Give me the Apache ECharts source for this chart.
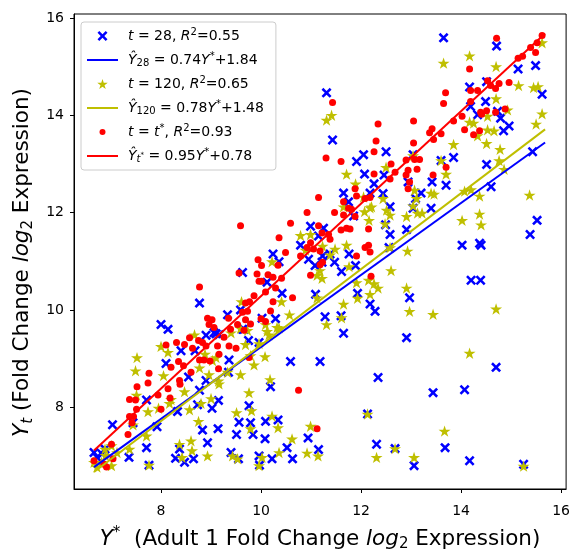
<!DOCTYPE html>
<html>
<head>
<meta charset="utf-8">
<title>Fold change scatter</title>
<script src="https://cdn.jsdelivr.net/npm/echarts@6/dist/echarts.min.js"></script>
<style>
    html, body { margin: 0; padding: 0; background: #fff; }
    #main { width: 573px; height: 557px; }
</style>
</head>
<body>
<div id="main"></div>
<script>
// 刻度
var xTicks = [8, 10, 12, 14, 16];
var yTicks = [8, 10, 12, 14, 16];

// t = 28  [Y*, Y28]
var points28 = [
    [13.65,15.59],[14.71,15.42],[15.14,14.95],[15.49,15.02],[14.17,14.58],[14.51,14.69],[15.62,14.43],[11.31,14.46],
    [14.49,14.28],[14.19,14.18],[14.33,14.01],[14.73,14.08],[14.79,13.94],[14.96,13.78],[14.85,13.68],[11.43,13.49],
    [11.91,13.05],[12.05,13.19],[12.50,13.25],[13.04,13.19],[13.85,13.13],[13.60,13.07],[14.51,12.99],[15.43,13.25],
    [12.07,12.79],[12.46,12.77],[12.26,12.59],[11.65,12.40],[12.18,12.40],[12.44,12.39],[13.09,12.29],[13.42,12.63],
    [13.70,12.56],[13.20,12.40],[12.94,12.63],[14.60,12.53],[13.40,12.09],[12.58,12.12],[13.04,12.09],[11.85,11.93],
    [12.49,11.75],[12.58,11.55],[12.91,11.65],[14.02,11.33],[14.37,11.37],[14.40,11.33],[15.52,11.84],[15.38,11.55],
    [11.76,11.15],[11.47,10.98],[11.61,10.79],[11.89,10.91],[14.20,10.61],[14.39,10.61],[11.93,10.34],[12.97,10.25],
    [12.18,10.12],[12.28,9.97],[11.60,9.88],[11.65,9.52],[12.91,9.43],[12.56,11.28],
    [14.70,8.82],[12.34,8.61],[13.44,8.30],[14.07,8.36],[12.13,7.86],[12.31,7.24],[12.68,7.15],[13.68,7.17],
    [13.06,6.80],[14.17,6.90],[15.25,6.83],
    [8.40,9.16],[8.10,8.90],[8.90,9.48],[9.10,9.51],[9.63,9.60],[9.75,9.37],[10.59,8.94],[11.18,8.94],[9.36,8.97],
    [9.35,8.72],[8.55,8.62],[10.19,8.42],[7.71,8.15],[7.03,7.64],[7.44,7.68],[7.92,7.60],[8.33,7.91],[8.73,8.05],
    [9.02,7.98],[9.15,8.14],[9.76,8.03],[9.56,7.69],[9.79,7.68],[10.09,7.71],[10.34,7.74],[8.83,7.53],[9.14,7.56],
    [8.93,7.27],[9.51,7.44],[9.84,7.44],[10.08,7.35],[7.71,7.17],[7.36,6.97],[7.76,6.81],[8.37,7.14],[8.29,6.95],
    [8.47,6.87],[8.65,6.94],[9.40,7.07],[9.55,6.94],[9.96,7.00],[10.22,6.94],[10.52,7.17],[10.63,6.94],[10.94,7.37],
    [11.15,7.13],[9.97,6.81],[6.88,7.14],[6.66,7.07],[6.82,7.04],[6.72,6.97],
    [9.63,10.77],[10.12,10.57],[10.42,10.34],[11.09,10.32],[11.28,9.86],[8.77,10.14],[9.33,9.90],[9.59,10.00],
    [10.02,9.83],[10.29,9.82],[9.66,9.60],[9.06,9.53],[9.16,9.49],[9.96,9.33],[8.90,8.55],[8.77,8.35],[10.36,10.99],
    [10.95,11.04],[11.22,10.98],[11.08,10.91],[10.99,11.72],[10.79,11.33],[10.24,11.15],[8.00,9.70],[8.14,9.60],
    [11.23,11.11],[8.68,9.16],[11.75,12.22],[11.15,11.52],[11.25,11.68],[11.38,11.15]
];

// t = 120
var points120 = [
    [13.65,15.07],[14.17,15.22],[14.70,15.00],[15.15,14.61],[15.45,14.57],[15.54,14.59],[14.70,14.34],[15.62,14.03],
    [15.50,13.82],[14.93,14.11],[14.53,13.98],[14.17,13.86],[14.25,13.84],[14.53,13.70],[14.66,13.68],[14.33,13.58],
    [14.51,13.42],[14.78,13.30],[13.85,13.40],[14.76,13.07],[14.86,12.89],[13.60,13.07],[13.04,13.17],[12.50,12.93],
    [11.71,12.79],[11.41,14.00],[11.31,13.90],[15.62,15.49],[13.70,12.79],
    [11.89,12.59],[13.40,12.40],[13.46,12.38],[14.07,12.44],[14.20,12.47],[14.37,12.34],[15.37,12.36],[14.37,11.97],
    [14.40,11.75],[14.02,11.84],[13.11,12.29],[12.05,12.32],[12.18,12.10],[12.51,12.05],[12.58,11.95],[12.91,11.92],
    [13.13,11.99],[13.22,11.99],[12.16,11.84],[12.48,11.77],[12.93,11.21],[11.71,11.33],[11.48,11.25],[11.38,11.13],
    [12.58,11.28],[12.60,10.81],[11.76,10.89],[11.91,10.56],[12.15,10.61],[12.26,10.54],[12.34,10.45],[12.91,10.45],
    [12.18,10.32],[11.93,10.24],[11.65,10.12],[11.61,9.84],[12.97,9.97],[13.44,9.91],[14.70,10.02],
    [14.17,9.11],[12.13,7.86],[13.67,7.51],[12.31,6.97],[12.68,7.15],[13.06,6.97],[15.25,6.79],
    [7.52,9.02],[7.49,8.75],[8.00,9.25],[8.14,9.13],[7.51,8.25],[7.44,7.64],[7.37,7.14],[7.01,7.21],[7.74,7.91],
    [7.71,7.41],[7.76,6.81],[8.20,8.16],[8.17,8.08],[8.47,8.32],[8.57,7.95],[8.75,7.71],[8.80,8.08],[9.00,8.18],
    [8.96,8.67],[9.15,8.54],[9.59,8.67],[9.76,8.30],[9.81,7.93],[9.51,7.89],[10.08,9.04],[10.18,8.57],[10.22,7.82],
    [10.34,7.58],[10.62,7.35],[10.99,7.61],[10.92,7.06],[11.14,7.00],[9.79,7.56],[8.37,7.24],[8.60,7.31],[8.62,7.11],
    [8.93,7.00],[8.42,6.97],[9.43,7.00],[9.53,6.94],[10.02,6.97],[10.36,7.07],[9.96,6.80],[6.88,7.14],[6.81,6.87],
    [7.01,6.80],[9.10,9.02],[9.03,8.96],[9.40,9.53],[9.69,9.29],[9.86,8.87],[8.77,8.81],[10.16,9.49],[10.36,9.63],
    [11.31,9.70],[7.95,7.98],[8.05,8.65],[6.72,6.77],[6.66,6.87],[6.89,7.01],[7.12,7.07],
    [9.61,10.17],[10.41,10.17],[10.22,10.99],[10.57,9.90],[10.09,9.70],[10.12,9.56],[10.32,9.64],[9.96,9.31],
    [9.79,9.06],[9.33,8.72],[9.16,8.48],[11.12,10.25],[11.18,10.81],[11.12,10.71],[11.22,10.65],
    [10.79,11.53],[10.99,11.55],[11.23,11.31],[10.89,11.23],[8.67,9.49],[9.59,9.62],[9.73,9.58],[8.88,9.09],
    [12.44,12.29],[11.65,12.12],[12.21,12.12],[12.07,12.02],[13.04,12.14],[13.07,12.46]
];

// t = t*
var pointsStar = [
    [14.71,15.58],[15.62,15.64],[15.52,15.49],[15.39,15.39],[15.49,15.29],[15.23,15.21],[15.14,15.17],[14.17,14.95],
    [14.53,14.71],[14.59,14.61],[14.69,14.55],[14.76,14.65],[14.96,14.67],[14.33,14.51],[14.19,14.51],[13.69,14.46],
    [13.65,14.24],[14.19,14.28],[14.39,14.06],[14.41,14.02],[14.51,14.09],[14.69,14.06],[14.88,14.13],[14.02,13.98],
    [13.85,13.88],[13.60,13.62],[13.42,13.72],[13.37,13.64],[13.45,13.50],[13.05,13.88],[12.34,13.82],[12.30,13.47],
    [12.26,13.25],[13.05,13.43],[13.17,13.09],[13.07,13.09],[12.90,13.08],[14.07,13.70],[14.25,13.60],[14.37,13.68],
    [11.30,13.12],[11.60,13.05],[11.43,14.26],[12.60,13.00],[12.68,12.83],[12.94,12.87],[13.12,12.89],[13.70,12.93],
    [13.44,12.77],[12.90,12.77],[12.26,12.79],
    [11.47,12.00],[11.65,11.95],[11.81,12.07],[11.88,11.92],[11.71,11.68],[11.60,11.64],[11.78,11.66],[12.15,11.66],
    [11.38,11.45],[12.08,11.28],[12.15,11.33],[12.18,11.19],[11.91,11.11],[12.20,10.69],[11.88,12.49],[11.91,12.34],
    [12.08,12.29],[12.18,12.31],[11.65,12.22],[11.75,12.09],[12.58,12.69],[12.97,12.63],[12.94,12.49],
    [11.15,12.31],[10.92,12.00],[10.59,11.78],[11.15,11.73],[11.22,11.58],[11.35,11.55],[10.99,11.38],[10.92,11.28],
    [11.05,11.25],[11.18,11.21],[10.49,11.18],[10.36,11.48],
    [9.59,11.73],[9.94,11.03],[10.01,10.91],[10.34,10.92],[9.56,10.76],[10.14,10.72],[10.24,10.67],[10.41,10.65],
    [9.96,10.59],[10.01,10.59],[8.77,10.47],[10.29,10.45],[10.09,10.37],[9.86,10.29],[9.77,10.17],[10.63,10.25],
    [10.24,10.17],[9.73,9.97],[9.63,9.95],[10.19,9.98],[10.00,9.82],[10.09,9.76],[8.93,9.83],[9.02,9.80],[8.96,9.70],
    [9.06,9.64],[9.35,9.83],[9.53,9.70],[9.79,9.71],[9.66,9.58],[10.79,11.11],[11.18,10.93],[11.23,10.98],[10.99,10.71],
    [9.69,10.14],[9.69,9.80],[9.39,9.60],[9.26,9.44],[8.83,9.33],[9.13,9.26],[9.36,9.26],[9.50,9.21],[9.16,9.09],
    [8.86,8.97],[10.75,8.35],[9.92,10.74],
    [8.10,9.28],[8.31,9.33],[8.47,9.29],[8.57,9.43],[8.75,9.37],[8.63,9.21],[8.90,9.26],[9.76,9.02],[8.20,8.82],
    [8.35,8.94],[8.45,8.85],[8.60,8.72],[8.77,8.97],[9.15,8.79],[7.76,8.70],[7.74,8.50],[8.37,8.55],[8.38,8.47],
    [7.52,8.42],[7.94,8.25],[8.14,8.38],[7.37,8.16],[7.51,7.96],[8.00,7.96],[7.37,7.81],[7.34,7.44],[7.01,7.24],
    [7.04,6.94],[6.91,6.77],[11.12,7.56],[7.49,8.15],[8.18,8.19],[7.45,7.81],[7.42,7.68],[6.86,6.83],[6.66,6.90],
    [8.98,8.95]
];

// 拟合线两端
var fitX = [6.66, 15.68];
var fit28 = [6.77, 13.44];
var fit120 = [6.67, 13.71];
var fitStar = [7.11, 15.68];

var names = ['t28', 'fit28', 't120', 'fit120', 'tstar', 'fitstar'];
var legendText = {
    t28: '{i|t} = 28, {i|R}{sup|2}=0.55',
    fit28: '{i|Ŷ}{sub|28} = 0.74{i|Y}{sup|*}+1.84',
    t120: '{i|t} = 120, {i|R}{sup|2}=0.65',
    fit120: '{i|Ŷ}{sub|120} = 0.78{i|Y}{sup|*}+1.48',
    tstar: '{i|t} = {i|t}{sup|*}, {i|R}{sup|2}=0.93',
    fitstar: '{i|Ŷ}{subi|t}{subsup|*} = 0.95{i|Y}{sup|*}+0.78'
};

var BLUE = '#0000ff', OLIVE = '#bfbf00', RED = '#ff0000';
var FONT = 'DejaVu Sans';

var xPath = 'path://M0 1.8L1.8 0L5 3.2L8.2 0L10 1.8L6.8 5L10 8.2L8.2 10L5 6.8L1.8 10L0 8.2L3.2 5Z';
var starPath = 'path://M5 0L6.123 3.455L9.755 3.455L6.817 5.59L7.939 9.045L5 6.91L2.061 9.045L3.183 5.59L0.245 3.455L3.877 3.455Z';
var dotIcon = 'path://M0 0M10 10M2 5A3 3 0 1 0 8 5A3 3 0 1 0 2 5Z';
var lineIcon = 'path://M0 0L31 0L31 2L0 2Z';

function linePoints(ys) {
    return [[fitX[0], ys[0]], [fitX[1], ys[1]]];
}

function fitLine(name, ys, color) {
    return {
        name: name,
        type: 'line',
        data: linePoints(ys),
        symbol: 'none',
        showSymbol: false,
        lineStyle: { color: color, width: 2 },
        itemStyle: { color: color },
        silent: true
    };
}

function scatter(name, data, symbol, size, color) {
    return {
        name: name,
        type: 'scatter',
        data: data,
        symbol: symbol,
        symbolSize: size,
        symbolKeepAspect: true,
        itemStyle: { color: color, opacity: 1 },
        silent: true
    };
}

var mathRich = function (size) {
    return {
        i: { fontStyle: 'italic', fontSize: size, fontFamily: FONT, color: '#000' },
        sup: { fontSize: Math.round(size * 0.7), fontFamily: FONT, color: '#000', padding: [0, 0, Math.round(size * 0.55), 0] },
        sub: { fontSize: Math.round(size * 0.7), fontFamily: FONT, color: '#000', padding: [Math.round(size * 0.45), 0, 0, 0] },
        subi: { fontStyle: 'italic', fontSize: Math.round(size * 0.7), fontFamily: FONT, color: '#000', padding: [Math.round(size * 0.45), 0, 0, 0] },
        subsup: { fontSize: Math.round(size * 0.5), fontFamily: FONT, color: '#000', padding: [0, 0, 2, 0] }
    };
};

var chart = echarts.init(document.getElementById('main'), null, { renderer: 'canvas' });

var axisCommon = {
    type: 'value',
    nameLocation: 'middle',
    splitLine: { show: false },
    axisLine: { show: true, onZero: false, lineStyle: { color: '#000', width: 1 } },
    axisTick: { show: true, inside: false, length: 4, lineStyle: { color: '#000', width: 1 } }
};

chart.setOption({
    animation: false,
    backgroundColor: '#fff',
    grid: {
        left: 74, right: 5, top: 14, bottom: 59,
        show: true, borderColor: '#000', borderWidth: 1, backgroundColor: 'transparent'
    },
    xAxis: Object.assign({}, axisCommon, {
        min: 6.26, max: 16.1,
        name: '{i|Y}{sup|*}  (Adult 1 Fold Change {i|log}{sub|2} Expression)',
        nameGap: 37,
        nameTextStyle: { fontSize: 21.5, fontFamily: FONT, color: '#000', rich: mathRich(21.5) },
        axisTick: Object.assign({}, axisCommon.axisTick, { customValues: xTicks }),
        axisLabel: { customValues: xTicks, fontSize: 14, fontFamily: FONT, color: '#000', margin: 15 }
    }),
    yAxis: Object.assign({}, axisCommon, {
        min: 6.32, max: 16.08,
        name: '{i|Y}{subi|t} (Fold Change {i|log}{sub|2} Expression)',
        nameGap: 31,
        nameTextStyle: { fontSize: 21.5, fontFamily: FONT, color: '#000', padding: [0, 22, 0, 0], rich: mathRich(21.5) },
        axisTick: Object.assign({}, axisCommon.axisTick, { customValues: yTicks }),
        axisLabel: { customValues: yTicks, fontSize: 14, fontFamily: FONT, color: '#000', margin: 10 }
    }),
    legend: {
        orient: 'vertical',
        left: 81, top: 22,
        padding: [5, 12, 5, 6],
        itemWidth: 31, itemHeight: 10, itemGap: 6,
        selectedMode: false,
        backgroundColor: 'rgba(255,255,255,0.8)',
        borderColor: '#cccccc', borderWidth: 1, borderRadius: 3,
        textStyle: {
            fontSize: 14, fontFamily: FONT, color: '#000', lineHeight: 18, padding: [0, 0, 0, 5],
            rich: mathRich(14)
        },
        formatter: function (name) {
            return legendText[name];
        },
        data: [
            { name: names[0], icon: xPath },
            { name: names[1], icon: lineIcon },
            { name: names[2], icon: starPath },
            { name: names[3], icon: lineIcon },
            { name: names[4], icon: dotIcon },
            { name: names[5], icon: lineIcon }
        ]
    },
    series: [
        scatter(names[0], points28, xPath, 10, BLUE),
        fitLine(names[1], fit28, BLUE),
        scatter(names[2], points120, starPath, 12, OLIVE),
        fitLine(names[3], fit120, OLIVE),
        scatter(names[4], pointsStar, 'circle', 7, RED),
        fitLine(names[5], fitStar, RED)
    ]
});
</script>
</body>
</html>
